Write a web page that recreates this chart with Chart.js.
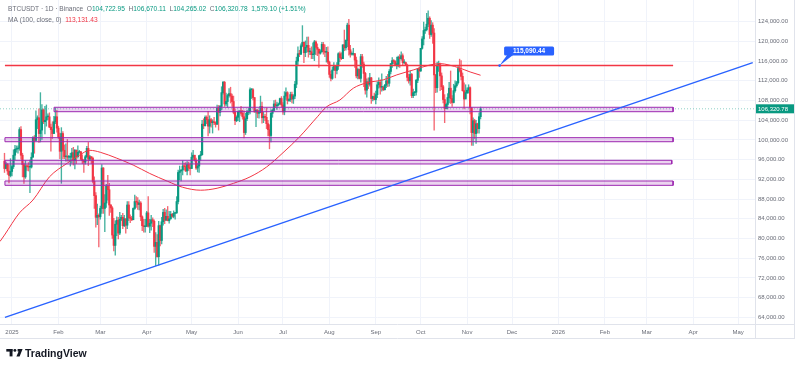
<!DOCTYPE html>
<html>
<head>
<meta charset="utf-8">
<script src="https://cdn.jsdelivr.net/npm/chart.js@4.4.1/dist/chart.umd.min.js"></script>
<style>
  html, body { margin: 0; padding: 0; background: #fff; }
</style>
</head>
<body>
<canvas id="chart" width="800" height="369"></canvas>
<script>
// BTCUSDT daily candles, 27 Dec 2024 -> 10 Nov 2025 (prices in thousands of USDT)
// day numbers are counted from 1 Jan 2025
const firstDay = -5;
const firstOpen = 95.7;

const closes = [
  94.2, 95.1, 93.7, 92.8, 93.6,
  94.6, 96.9, 98.1, 98.2, 98.3, 102.1, 96.9, 95.0, 92.5, 94.7, 94.6, 94.5, 94.5, 96.5, 100.5, 99.9, 104.1, 104.5, 101.3, 102.0, 106.1, 103.7, 104.0, 104.7, 104.7, 102.6, 102.1, 101.3, 103.7, 104.7, 102.4,
  100.6, 97.7, 101.3, 97.9, 96.6, 96.6, 96.5, 96.5, 96.5, 97.4, 95.8, 97.9, 96.6, 97.5, 97.6, 96.1, 95.8, 95.5, 96.6, 98.3, 96.1, 96.6, 96.3, 91.6, 88.7, 84.3, 84.7, 84.4,
  86.1, 94.3, 86.1, 87.2, 90.6, 89.9, 86.8, 86.2, 80.7, 78.6, 82.9, 83.7, 81.1, 83.9, 84.3, 82.6, 84.0, 82.7, 86.8, 84.2, 84.1, 83.8, 86.1, 87.5, 87.4, 86.9, 87.2, 84.4, 82.6, 82.4, 82.5,
  85.2, 82.5, 83.1, 83.8, 83.5, 78.4, 79.2, 76.3, 82.6, 79.6, 83.4, 85.3, 83.7, 84.5, 83.6, 84.0, 84.9, 84.5, 85.1, 85.2, 87.5, 93.4, 93.7, 93.9, 94.7, 94.6, 93.7, 95.0, 94.3, 94.2,
  96.5, 96.9, 95.9, 94.3, 94.7, 96.8, 97.0, 103.2, 102.9, 104.6, 104.1, 102.8, 104.1, 103.5, 103.7, 103.5, 103.2, 106.4, 105.6, 106.8, 109.6, 111.7, 107.3, 107.8, 109.0, 109.4, 108.9, 107.8, 105.6, 103.9, 104.6,
  105.7, 105.9, 105.4, 104.7, 101.5, 104.3, 105.6, 105.7, 110.2, 110.2, 108.6, 105.7, 106.0, 105.4, 105.6, 106.8, 104.5, 104.8, 104.6, 103.3, 102.1, 100.9, 105.4, 106.0, 107.3, 106.9, 107.1, 107.3, 108.4, 107.1,
  105.7, 108.9, 109.6, 108.0, 108.2, 109.2, 108.3, 108.9, 111.3, 116.0, 117.5, 117.4, 119.1, 119.8, 117.7, 118.8, 119.2, 117.9, 117.9, 117.3, 117.4, 119.9, 118.8, 118.4, 117.6, 117.9, 119.4, 118.0, 117.8, 117.8, 115.8,
  113.3, 112.5, 114.2, 115.0, 114.1, 115.0, 117.5, 116.7, 116.5, 119.3, 118.7, 120.2, 123.3, 118.3, 117.4, 117.4, 117.5, 116.2, 113.0, 114.3, 112.5, 116.9, 115.4, 113.5, 110.1, 111.8, 111.3, 112.6, 108.4, 108.8, 108.2,
  109.2, 111.2, 111.7, 110.7, 110.7, 110.2, 111.1, 112.0, 111.5, 113.9, 115.5, 116.1, 115.9, 115.3, 115.3, 116.8, 116.5, 117.1, 115.7, 115.7, 115.2, 112.7, 112.0, 113.3, 109.0, 109.6, 109.7, 112.1, 114.4, 114.0,
  118.6, 120.5, 122.2, 122.4, 123.5, 124.7, 121.4, 123.3, 121.7, 113.2, 110.6, 115.2, 115.3, 113.0, 110.8, 108.2, 106.4, 107.2, 108.6, 110.5, 108.4, 107.6, 110.0, 111.0, 111.6, 114.5, 114.1, 112.9, 110.0, 108.3, 109.6,
  110.1, 110.6, 106.5, 101.5, 103.9, 101.3, 103.3, 102.3, 104.72, 106.32
];
const highs = [
  97.3, 95.5, 95.2, 94.9, 96.2,
  94.9, 98.0, 98.9, 98.8, 98.8, 102.5, 102.7, 97.3, 95.3, 95.8, 95.0, 95.4, 95.9, 97.4, 100.7, 100.9, 105.9, 104.9, 106.3, 109.6, 107.2, 106.3, 106.8, 107.1, 105.3, 105.5, 103.2, 103.7, 104.8, 106.5, 106.0,
  102.8, 101.4, 102.5, 101.7, 99.0, 99.2, 100.1, 96.9, 97.3, 98.3, 98.5, 98.1, 98.0, 98.8, 97.9, 97.7, 97.0, 96.0, 96.9, 98.7, 99.5, 96.9, 96.6, 96.5, 92.5, 89.3, 87.0, 85.0,
  86.6, 95.0, 94.4, 88.9, 91.0, 92.8, 91.2, 86.9, 86.5, 84.1, 83.6, 84.4, 84.3, 85.3, 84.7, 85.1, 84.7, 84.0, 87.5, 87.5, 84.8, 84.5, 86.2, 88.8, 88.5, 88.3, 87.8, 87.5, 84.6, 83.9, 83.9,
  85.5, 88.5, 83.9, 84.7, 84.2, 83.8, 81.2, 80.8, 83.5, 82.7, 84.3, 85.9, 86.1, 85.8, 86.5, 85.5, 85.5, 85.1, 85.6, 85.3, 88.5, 93.9, 94.7, 94.0, 95.8, 95.3, 95.4, 95.6, 95.5, 95.2,
  97.4, 97.9, 96.9, 96.3, 95.2, 96.9, 97.7, 104.0, 104.3, 104.9, 104.9, 105.8, 104.9, 104.4, 104.1, 104.6, 103.7, 107.1, 107.0, 107.0, 110.8, 111.9, 111.9, 109.5, 109.3, 110.4, 110.7, 109.3, 108.9, 106.3, 104.9,
  105.9, 105.9, 106.8, 106.0, 105.9, 105.4, 106.0, 106.4, 110.6, 110.4, 110.4, 108.6, 106.2, 106.2, 106.0, 108.9, 107.7, 105.6, 105.2, 106.5, 104.0, 103.1, 106.1, 106.3, 108.0, 108.1, 107.7, 107.5, 108.5, 108.8,
  107.6, 109.8, 110.6, 109.8, 108.4, 109.7, 109.7, 109.2, 111.9, 116.8, 118.9, 118.2, 119.5, 123.2, 119.9, 120.1, 120.9, 120.9, 118.6, 118.9, 119.7, 120.2, 120.1, 119.5, 118.5, 118.3, 119.8, 119.8, 119.3, 118.8, 118.9,
  116.0, 114.0, 114.8, 115.7, 115.1, 115.7, 117.7, 117.9, 117.7, 119.3, 122.3, 120.3, 123.7, 124.5, 119.2, 117.9, 118.6, 117.6, 116.8, 114.6, 114.4, 117.4, 117.4, 115.8, 113.7, 112.4, 112.6, 113.5, 112.7, 108.9, 109.5,
  109.9, 111.8, 112.6, 112.2, 113.4, 110.9, 111.3, 112.9, 113.3, 114.3, 115.5, 116.7, 116.3, 116.1, 116.8, 117.0, 117.3, 117.9, 117.5, 116.3, 115.8, 115.4, 113.3, 114.0, 113.5, 110.3, 109.8, 112.3, 114.5, 114.8,
  118.6, 121.0, 123.9, 122.9, 125.7, 126.2, 125.0, 124.2, 123.8, 122.6, 113.3, 115.8, 116.0, 115.6, 113.6, 111.1, 109.2, 107.5, 109.4, 111.7, 114.0, 109.0, 111.3, 112.0, 111.9, 115.0, 116.4, 116.1, 113.6, 111.6, 111.2,
  110.6, 111.2, 110.8, 106.6, 104.5, 104.2, 104.0, 103.4, 105.5, 106.67
];
const lows = [
  93.4, 94.1, 93.0, 91.3, 92.5,
  92.7, 94.2, 96.0, 97.5, 97.3, 97.9, 96.1, 92.5, 91.2, 92.2, 93.8, 93.7, 89.3, 94.3, 96.5, 97.3, 99.9, 102.3, 99.5, 99.6, 100.1, 103.3, 101.2, 102.8, 104.1, 102.5, 97.7, 100.3, 101.3, 103.3, 101.6,
  100.3, 96.2, 91.2, 96.2, 96.2, 95.7, 95.7, 95.7, 94.7, 95.3, 94.9, 94.1, 95.2, 96.3, 97.3, 96.0, 95.2, 93.4, 95.1, 96.4, 94.8, 95.8, 95.2, 91.3, 86.1, 82.3, 82.8, 78.3,
  83.9, 85.1, 85.1, 81.4, 86.3, 87.8, 84.7, 85.3, 80.0, 77.5, 76.6, 80.6, 79.9, 80.8, 83.6, 82.0, 82.4, 81.1, 82.0, 83.6, 83.2, 83.6, 83.8, 85.9, 86.3, 85.9, 85.8, 83.6, 81.6, 81.3, 81.3,
  82.4, 82.3, 81.2, 81.7, 82.4, 77.2, 74.5, 76.2, 74.6, 78.5, 78.9, 82.7, 83.0, 83.7, 83.6, 83.1, 83.9, 84.3, 84.2, 83.9, 85.1, 87.0, 91.9, 91.7, 92.9, 93.9, 93.6, 92.9, 93.8, 92.9,
  94.2, 96.0, 95.7, 94.0, 93.5, 93.4, 95.8, 96.9, 102.3, 102.8, 103.3, 100.8, 101.4, 102.6, 101.4, 103.1, 102.6, 103.1, 102.0, 104.9, 106.1, 109.3, 106.8, 106.9, 106.6, 108.7, 107.5, 106.8, 105.3, 103.1, 103.7,
  103.9, 103.7, 105.0, 104.2, 100.4, 101.1, 103.9, 105.1, 105.3, 108.4, 108.1, 105.6, 102.7, 104.5, 104.4, 105.5, 103.4, 103.5, 103.9, 102.3, 100.8, 98.2, 99.6, 104.6, 105.9, 106.6, 106.2, 106.9, 107.2, 106.7,
  105.2, 105.1, 108.2, 107.3, 107.8, 107.8, 107.5, 107.4, 108.4, 110.6, 115.2, 116.9, 117.3, 118.9, 115.7, 116.9, 117.8, 116.8, 117.3, 116.5, 116.5, 116.1, 117.3, 117.1, 114.7, 117.4, 117.8, 117.4, 116.9, 115.8, 115.5,
  112.7, 112.0, 112.3, 114.1, 112.6, 113.4, 114.3, 115.9, 116.3, 116.5, 118.1, 118.2, 118.9, 117.2, 116.8, 117.2, 117.2, 114.7, 112.6, 112.4, 112.4, 111.7, 114.7, 110.8, 109.3, 108.7, 110.4, 110.9, 107.4, 107.9, 108.1,
  107.3, 108.6, 110.5, 109.3, 109.9, 110.0, 110.1, 110.6, 110.8, 110.9, 113.4, 114.7, 115.4, 115.1, 114.4, 114.8, 114.7, 116.2, 115.2, 115.5, 115.1, 112.0, 111.5, 111.1, 108.6, 108.6, 109.0, 109.1, 111.6, 112.7,
  113.9, 118.4, 119.3, 121.6, 122.1, 123.0, 120.6, 121.0, 119.6, 102.0, 109.6, 109.7, 113.9, 110.0, 110.2, 107.5, 103.5, 106.3, 106.3, 107.5, 107.4, 106.8, 107.5, 109.7, 110.7, 111.3, 113.8, 112.2, 109.9, 106.3, 108.6,
  109.4, 109.5, 105.3, 98.9, 98.9, 100.3, 99.3, 101.4, 101.4, 104.27
];

// last bar as quoted in the header
const lastQuote = [104722.95, 106670.11, 104265.02, 106320.78];
const lastChange = '1,579.10 (+1.51%)';

// MA(100, close)
const maDays   = [-8, -5, 5, 14, 25, 37, 45, 52, 59, 70, 81, 92, 104, 114, 126, 137, 148, 159, 170, 181, 192, 204, 210, 219, 228, 237, 248, 257, 268, 279, 286, 292, 299, 306, 313];
const maValues = [79.4, 80.7, 85.2, 87.8, 92.5, 95.3, 96.9, 97.9, 97.5, 96.3, 94.9, 93.2, 91.6, 90.4, 89.8, 90.2, 91.2, 92.5, 94.5, 97.4, 100.6, 104.7, 106.7, 108.1, 110.5, 111.6, 112.2, 113.2, 114.2, 115.2, 115.5, 115.2, 114.6, 113.8, 113.13143];

// drawings
const resistance = 115090.44;
const resistanceDays = [-4.7, 441.6];
const calloutDay = 325.7;
const zoneTops    = [106.63, 100.46, 95.87, 91.67];
const zoneBottoms = [105.73, 99.64, 95.12, 90.79];
const zoneFrom    = [28.1, -4.7, -4.7, -4.7];
const zoneTo      = [441.6, 441.6, 440.7, 441.6];
const trendDays   = [-4.7, 494.8];
const trendValues = [64.0, 115.68];

// axes
const monthDays   = [0, 31, 59, 90, 120, 151, 181, 212, 243, 273, 304, 334, 365, 396, 424, 455, 485];
const monthLabels = ['2025', 'Feb', 'Mar', 'Apr', 'May', 'Jun', 'Jul', 'Aug', 'Sep', 'Oct', 'Nov', 'Dec', '2026', 'Feb', 'Mar', 'Apr', 'May'];
const priceTicks  = [64000, 68000, 72000, 76000, 80000, 84000, 88000, 92000, 96000, 100000, 104000, 108000, 112000, 116000, 120000, 124000];

const UP = '#089981', DOWN = '#f23645';
const FONT = "'Liberation Sans', Arial, sans-serif";
const fmt = v => v.toLocaleString('en-US', { minimumFractionDigits: 2, maximumFractionDigits: 2 });

const bars = closes.map((c, i) => {
  // crypto trades 24/7, so a day opens where the previous one closed
  const o = i === 0 ? firstOpen : closes[i - 1];
  return { x: firstDay + i, o: o * 1000, h: highs[i] * 1000, l: lows[i] * 1000, c: c * 1000 };
});
const last = bars[bars.length - 1];
[last.o, last.h, last.l, last.c] = lastQuote;
const barColors = bars.map(b => b.c >= b.o ? UP : DOWN);

const zoneSets = zoneTops.map((t, i) => ({
  type: 'line',
  data: [
    { x: zoneFrom[i], y: t * 1000 }, { x: zoneTo[i], y: t * 1000 },
    { x: zoneTo[i], y: zoneBottoms[i] * 1000 }, { x: zoneFrom[i], y: zoneBottoms[i] * 1000 },
    { x: zoneFrom[i], y: t * 1000 }
  ],
  borderColor: '#9c27b0',
  borderWidth: 1,
  backgroundColor: 'rgba(156,39,176,0.2)',
  fill: 'shape',
  pointRadius: 0,
  order: 3
}));

const tvPlugin = {
  id: 'tv',
  afterDatasetsDraw(chart) {
    const { ctx, scales: { x, y } } = chart;
    // callout for the red level
    const ax = x.getPixelForValue(calloutDay), ay = y.getPixelForValue(resistance);
    ctx.save();
    ctx.fillStyle = '#2962ff';
    ctx.beginPath();
    ctx.arc(ax, ay, 1.3, 0, Math.PI * 2);
    ctx.fill();
    const bx = ax + 4.5, by = ay - 19, bw = 50, bh = 9;
    ctx.beginPath();
    ctx.moveTo(ax, ay);
    ctx.lineTo(bx + 3, by + bh - 0.5);
    ctx.lineTo(bx + 9, by + bh - 0.5);
    ctx.closePath();
    ctx.fill();
    ctx.beginPath();
    ctx.roundRect(bx, by, bw, bh, 1.5);
    ctx.fill();
    ctx.fillStyle = '#fff';
    ctx.font = 'bold 6.5px ' + FONT;
    ctx.textAlign = 'center';
    ctx.textBaseline = 'middle';
    ctx.fillText(fmt(resistance), bx + bw / 2, by + bh / 2 + 0.3);
    ctx.restore();
  },
  afterDraw(chart) {
    const { ctx, chartArea: a, scales: { y } } = chart;
    ctx.save();
    // frame
    ctx.strokeStyle = '#e0e3eb';
    ctx.lineWidth = 1;
    ctx.beginPath();
    ctx.moveTo(0, a.bottom + 0.5); ctx.lineTo(795, a.bottom + 0.5);
    ctx.moveTo(0, 338.5); ctx.lineTo(795, 338.5);
    ctx.moveTo(a.right + 0.5, 0); ctx.lineTo(a.right + 0.5, 338.5);
    ctx.moveTo(794.5, 0); ctx.lineTo(794.5, 338.5);
    ctx.stroke();

    // last price label
    const py = y.getPixelForValue(last.c);
    ctx.fillStyle = UP;
    ctx.fillRect(a.right + 1, py - 4.5, 38, 9);
    ctx.fillStyle = '#fff';
    ctx.font = '6px ' + FONT;
    ctx.textBaseline = 'middle';
    ctx.fillText(fmt(last.c), a.right + 3, py + 0.3);

    // legend lines
    ctx.font = '6.6px ' + FONT;
    ctx.textBaseline = 'alphabetic';
    const row = (parts, yy) => {
      let xx = 8;
      parts.forEach(([t, col]) => { ctx.fillStyle = col; ctx.fillText(t, xx, yy); xx += ctx.measureText(t).width; });
    };
    const G = '#6a6d78';
    row([['BTCUSDT · 1D · Binance  O', G], [fmt(last.o), UP], ['  H', G], [fmt(last.h), UP], ['  L', G],
         [fmt(last.l), UP], ['  C', G], [fmt(last.c), UP], ['  ' + lastChange, UP]], 10.5);
    row([['MA (100, close, 0)  ', G], [fmt(maValues[maValues.length - 1] * 1000), DOWN]], 21.5);

    // TradingView mark
    ctx.fillStyle = '#131722';
    ctx.fillRect(6.3, 349, 6.2, 2.6);
    ctx.fillRect(9.6, 349, 2.9, 7.4);
    ctx.beginPath(); ctx.arc(14.9, 350.4, 1.45, 0, Math.PI * 2); ctx.fill();
    ctx.beginPath();
    ctx.moveTo(17.6, 349); ctx.lineTo(22.6, 349); ctx.lineTo(19.6, 356.4); ctx.lineTo(16.4, 356.4);
    ctx.lineTo(18.6, 351.6); ctx.lineTo(17.6, 351.6);
    ctx.closePath(); ctx.fill();
    ctx.font = 'bold 10.5px ' + FONT;
    ctx.textBaseline = 'alphabetic';
    ctx.fillText('TradingView', 25, 356.6);
    ctx.restore();
  }
};

new Chart(document.getElementById('chart'), {
  type: 'bar',
  data: {
    datasets: [
      {
        type: 'line',
        data: trendDays.map((d, i) => ({ x: d, y: trendValues[i] * 1000 })),
        borderColor: '#2962ff', borderWidth: 1.4, pointRadius: 0, order: 1
      },
      {
        type: 'line',
        data: resistanceDays.map(d => ({ x: d, y: resistance })),
        borderColor: '#f23645', borderWidth: 1.5, pointRadius: 0, order: 2
      },
      ...zoneSets,
      {
        type: 'line',
        data: maDays.map((d, i) => ({ x: d, y: maValues[i] * 1000 })),
        borderColor: '#f23645', borderWidth: 1, pointRadius: 0,
        cubicInterpolationMode: 'monotone', order: 4
      },
      {
        data: bars.map(b => ({ x: b.x, y: [b.o, b.c] })),
        backgroundColor: barColors, borderWidth: 0, barThickness: 1.5,
        minBarLength: 0.8, grouped: false, order: 5
      },
      {
        data: bars.map(b => ({ x: b.x, y: [b.l, b.h] })),
        backgroundColor: barColors.map(c => c + 'c0'), borderWidth: 0, barThickness: 0.7,
        grouped: false, order: 6
      },
      {
        type: 'line',
        data: [{ x: -8, y: lastQuote[3] }, { x: 496.3, y: lastQuote[3] }],
        borderColor: 'rgba(8,153,129,0.45)', borderWidth: 1, borderDash: [1, 2],
        pointRadius: 0, order: 7
      }
    ]
  },
  options: {
    responsive: false,
    animation: false,
    events: [],
    layout: { padding: { left: 0, top: 0, right: 5, bottom: 31 } },
    plugins: { legend: { display: false }, tooltip: { enabled: false } },
    scales: {
      x: {
        type: 'linear', min: -8, max: 496.3, offset: false,
        afterBuildTicks: s => { s.ticks = monthDays.map(v => ({ value: v })); },
        afterFit: s => { s.height = 14; s.paddingLeft = 0; s.paddingRight = 0; },
        grid: { color: '#f0f3fa', drawTicks: false, offset: false },
        border: { display: false },
        ticks: {
          autoSkip: false, maxRotation: 0, padding: 4.5, color: '#6a6d78',
          font: { family: FONT, size: 6 },
          callback: v => monthLabels[monthDays.indexOf(v)]
        }
      },
      y: {
        position: 'right', min: 62650, max: 128400,
        afterBuildTicks: s => { s.ticks = priceTicks.map(v => ({ value: v })); },
        afterFit: s => { s.width = 40; s.paddingTop = 0; s.paddingBottom = 0; },
        grid: { color: '#f0f3fa', drawTicks: false },
        border: { display: false },
        ticks: {
          padding: 3, color: '#6a6d78',
          font: { family: FONT, size: 6 },
          callback: v => fmt(v)
        }
      }
    }
  },
  plugins: [tvPlugin]
});
</script>
</body>
</html>
